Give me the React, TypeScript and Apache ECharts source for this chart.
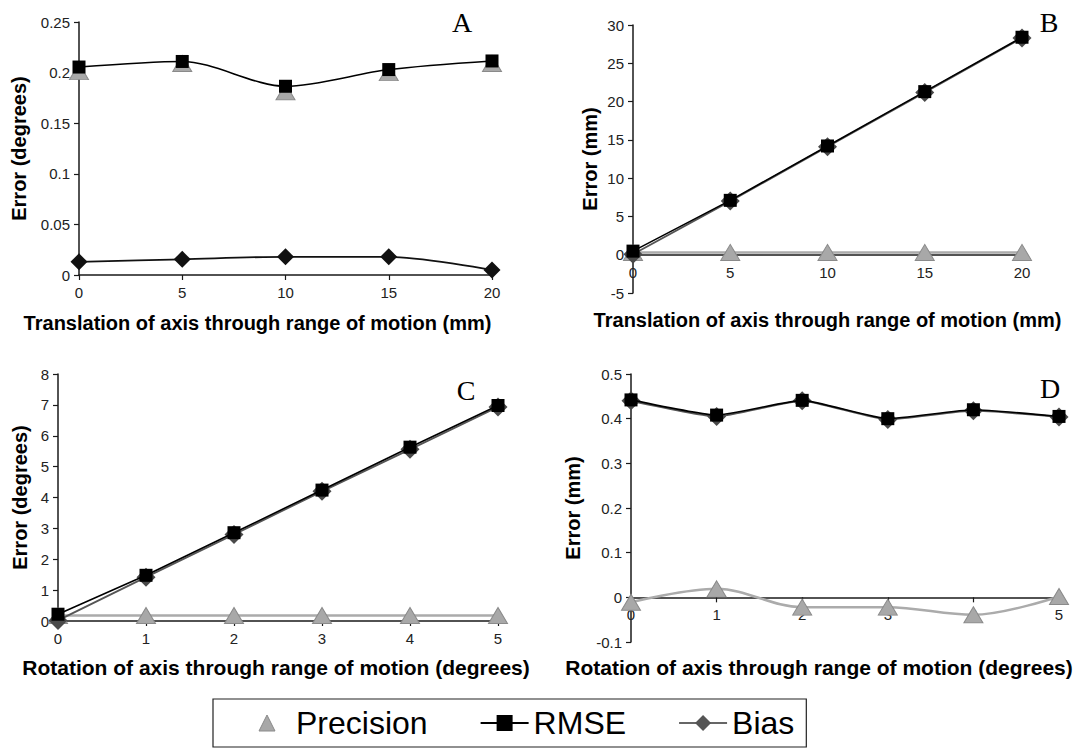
import React, { useEffect, useRef } from "react";
import * as echarts from "echarts";

// ---- Data ----
const xTranslation = [0, 5, 10, 15, 20];
const xRotation = [0, 1, 2, 3, 4, 5];

const precisionA = [0.201, 0.209, 0.181, 0.2, 0.209];
const rmseA = [0.2055, 0.211, 0.1865, 0.203, 0.2115];
const biasA = [0.013, 0.0155, 0.018, 0.018, 0.005];

const precisionB = [0.3, 0.3, 0.3, 0.3, 0.3];
const rmseB = [0.47, 7.1, 14.2, 21.3, 28.4];
const biasB = [0.05, 7.0, 14.1, 21.2, 28.3];

const precisionC = [0.18, 0.18, 0.18, 0.18, 0.18, 0.18];
const rmseC = [0.22, 1.48, 2.86, 4.24, 5.63, 6.98];
const biasC = [0.02, 1.42, 2.8, 4.2, 5.56, 6.93];

const precisionD = [-0.011, 0.019, -0.022, -0.022, -0.039, 0.002];
const rmseD = [0.442, 0.408, 0.441, 0.4, 0.42, 0.405];
const biasD = [0.44, 0.405, 0.44, 0.398, 0.418, 0.404];

const panelLetters = ["A", "B", "C", "D"];
const xNames = [
  "Translation of axis through range of motion (mm)",
  "Translation of axis through range of motion (mm)",
  "Rotation of axis through range of motion (degrees)",
  "Rotation of axis through range of motion (degrees)",
];
const yNames = ["Error (degrees)", "Error (mm)", "Error (degrees)", "Error (mm)"];
const legendNames = ["Precision", "RMSE", "Bias"];

const SANS = '"Liberation Sans", Arial, sans-serif';

const zip = (xs: number[], ys: number[]) => xs.map((x, i) => [x, ys[i]]);

export default function App() {
  const ref = useRef<HTMLDivElement>(null);
  useEffect(() => {
    document.body.style.margin = "0";
    if (!ref.current) return;
    const chart = echarts.init(ref.current, undefined, { renderer: "svg" });

    const grids = [
      { left: 79, top: 22, width: 413, height: 253, outerBoundsMode: "none" },
      { left: 633, top: 25, width: 389, height: 268, outerBoundsMode: "none" },
      { left: 58, top: 374, width: 440, height: 247, outerBoundsMode: "none" },
      { left: 631, top: 374, width: 428, height: 268, outerBoundsMode: "none" },
    ];
    const xCfg = [
      { max: 20, interval: 5, nameGap: 38, shift: 56, size: 20 },
      { max: 20, interval: 5, nameGap: 55, shift: 0, size: 20 },
      { max: 5, interval: 1, nameGap: 36, shift: 4, size: 21 },
      { max: 5, interval: 1, nameGap: 60, shift: 52, size: 21 },
    ];
    const yCfg = [
      { min: 0, max: 0.25, interval: 0.05, nameGap: 50 },
      { min: -5, max: 30, interval: 5, nameGap: 33 },
      { min: 0, max: 8, interval: 1, nameGap: 28 },
      { min: -0.1, max: 0.5, interval: 0.1, nameGap: 48 },
    ];

    const axisLineStyle = { color: "#1a1a1a", width: 1.5 };
    const axisTick = { show: true, length: 5, lineStyle: { color: "#1a1a1a", width: 1.2 } };
    const axisLabel = { color: "#222", fontSize: 15, fontFamily: SANS, margin: 10 };
    const yNameStyle = { color: "#000", fontSize: 20, fontWeight: "bold", fontFamily: SANS };

    // x axis sits at y = 0 of its panel: shift it up from the grid bottom
    const xAxis = grids.map((g, i) => {
      const y = yCfg[i];
      const zeroShift = (g.height * (0 - y.min)) / (y.max - y.min);
      return {
        type: "value",
        gridIndex: i,
        position: "bottom",
        offset: -zeroShift,
        min: 0,
        max: xCfg[i].max,
        interval: xCfg[i].interval,
        name: xNames[i],
        nameLocation: "middle",
        nameGap: xCfg[i].nameGap,
        nameTextStyle: {
          color: "#000",
          fontSize: xCfg[i].size,
          fontWeight: "bold",
          fontFamily: SANS,
          padding: [0, xCfg[i].shift, 0, 0],
        },
        axisLine: { show: true, onZero: false, lineStyle: axisLineStyle },
        axisTick,
        axisLabel,
        splitLine: { show: false },
      };
    });
    const yAxis = grids.map((_, i) => ({
      type: "value",
      gridIndex: i,
      min: yCfg[i].min,
      max: yCfg[i].max,
      interval: yCfg[i].interval,
      name: yNames[i],
      nameLocation: "middle",
      nameGap: yCfg[i].nameGap,
      nameTextStyle: yNameStyle,
      axisLine: { show: true, onZero: false, lineStyle: axisLineStyle },
      axisTick,
      axisLabel: { ...axisLabel, margin: 9 },
      splitLine: { show: false },
    }));

    const panels = [
      { x: xTranslation, p: precisionA, r: rmseA, b: biasA, smooth: 0.3, pSmooth: 0.3, biasColor: "#111", hideP: true },
      { x: xTranslation, p: precisionB, r: rmseB, b: biasB, smooth: false, pSmooth: false, biasColor: "#4a4a4a", hideP: false },
      { x: xRotation, p: precisionC, r: rmseC, b: biasC, smooth: false, pSmooth: false, biasColor: "#4a4a4a", hideP: false },
      { x: xRotation, p: precisionD, r: rmseD, b: biasD, smooth: 0.15, pSmooth: 0.35, biasColor: "#4a4a4a", hideP: false },
    ];

    const series: any[] = [];
    panels.forEach((pn, i) => {
      series.push({
        type: "line",
        name: "Precision",
        xAxisIndex: i,
        yAxisIndex: i,
        data: zip(pn.x, pn.p),
        smooth: pn.pSmooth,
        symbol: "triangle",
        symbolSize: [19, 16],
        z: 2,
        itemStyle: { color: "#a8a8a8", borderColor: "#8a8a8a", borderWidth: 1 },
        lineStyle: { color: "#ababab", width: pn.hideP ? 0 : 2.5, opacity: pn.hideP ? 0 : 1 },
      });
      series.push({
        type: "line",
        name: "Bias",
        xAxisIndex: i,
        yAxisIndex: i,
        data: zip(pn.x, pn.b),
        smooth: pn.smooth,
        symbol: "diamond",
        symbolSize: i === 0 ? 17 : 19,
        z: 3,
        itemStyle: { color: pn.biasColor },
        lineStyle: { color: i === 0 ? "#111" : "#555", width: 1.8 },
      });
      series.push({
        type: "line",
        name: "RMSE",
        xAxisIndex: i,
        yAxisIndex: i,
        data: zip(pn.x, pn.r),
        smooth: pn.smooth,
        symbol: "rect",
        symbolSize: 13,
        z: 4,
        itemStyle: { color: "#000" },
        lineStyle: { color: "#000", width: 1.6 },
      });
    });

    const letterPos = [
      [462, 22],
      [1049, 22],
      [466, 390],
      [1050, 388],
    ];

    chart.setOption({
      animation: false,
      backgroundColor: "#fff",
      grid: grids,
      xAxis,
      yAxis,
      series,
      legend: {
        left: 213,
        top: 699,
        orient: "horizontal",
        selectedMode: false,
        borderColor: "#222",
        borderWidth: 1.2,
        padding: [8, 12, 8, 29],
        itemWidth: 48,
        itemHeight: 20,
        itemGap: 52,
        textStyle: { fontSize: 32, fontFamily: SANS, color: "#000", lineHeight: 32 },
        data: [
          {
            name: legendNames[0],
            itemStyle: { color: "#a8a8a8", borderColor: "#8a8a8a", borderWidth: 1 },
            lineStyle: { color: "#999", width: 2 },
          },
          { name: legendNames[1], itemStyle: { color: "#000" }, lineStyle: { color: "#000", width: 2 } },
          { name: legendNames[2], itemStyle: { color: "#555" }, lineStyle: { color: "#666", width: 2 } },
        ],
      },
      graphic: panelLetters.map((t, i) => ({
        type: "text",
        x: letterPos[i][0],
        y: letterPos[i][1],
        style: {
          text: t,
          fontSize: 28,
          fontFamily: '"Liberation Serif", "Times New Roman", serif',
          fill: "#000",
          align: "center",
          verticalAlign: "middle",
        },
      })),
    });

    return () => chart.dispose();
  }, []);

  return <div ref={ref} style={{ width: 1081, height: 748 }} />;
}
